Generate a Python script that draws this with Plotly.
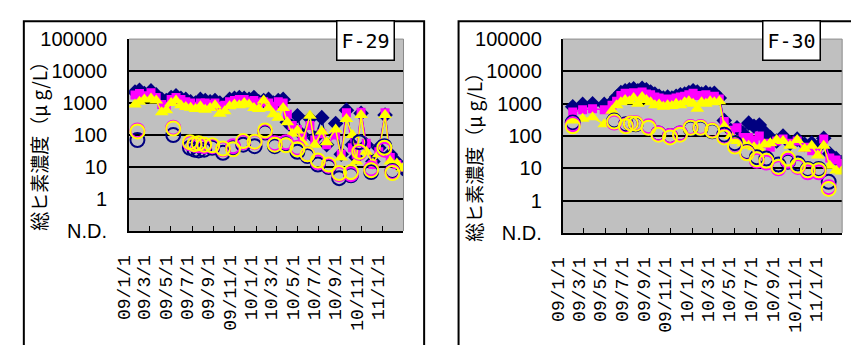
import plotly.graph_objects as go

# ---------------- data ----------------
tick_dates = ["2009-01-01", "2009-03-01", "2009-05-01", "2009-07-01", "2009-09-01",
              "2009-11-01", "2010-01-01", "2010-03-01", "2010-05-01", "2010-07-01",
              "2010-09-01", "2010-11-01", "2011-01-01", "2011-03-01"]
tick_labels = ["09/1/1", "09/3/1", "09/5/1", "09/7/1", "09/9/1", "09/11/1", "10/1/1",
               "10/3/1", "10/5/1", "10/7/1", "10/9/1", "10/11/1", "11/1/1", ""]
y_tickvals = [0.1, 1, 10, 100, 1000, 10000, 100000]
y_ticktext = ["N.D.", "1", "10", "100", "1000", "10000", "100000"]
grid_vals = [1, 10, 100, 1000, 10000]

# F-29 total (filled markers)
f29_tot_dates = ["2009-01-18", "2009-01-31", "2009-02-14", "2009-03-05", "2009-03-20", "2009-04-05",
                 "2009-04-18", "2009-05-02", "2009-05-16", "2009-05-30", "2009-06-13", "2009-06-27",
                 "2009-07-11", "2009-07-25", "2009-08-08", "2009-08-22", "2009-09-05", "2009-09-19",
                 "2009-10-03", "2009-10-17", "2009-10-31", "2009-11-14", "2009-11-28", "2009-12-12",
                 "2009-12-26", "2010-01-09", "2010-01-23", "2010-02-06", "2010-02-20", "2010-03-06",
                 "2010-03-20", "2010-04-01", "2010-04-15", "2010-04-30", "2010-05-14", "2010-06-05",
                 "2010-06-19", "2010-07-09", "2010-07-23", "2010-08-18", "2010-09-03", "2010-09-18",
                 "2010-10-05", "2010-10-16", "2010-10-30", "2010-11-14", "2010-12-03", "2010-12-20",
                 "2011-01-07", "2011-01-22", "2011-02-10", "2011-02-26"]
f29_navy = [2200, 2500, 2000, 2400, 1800, 1300, 1200, 1500, 1700, 1400, 1300, 1100,
            1000, 1300, 1200, 1100, 1200, 1000, 900, 1300, 1400, 1500, 1400, 1300,
            1500, 1100, 1200, 1300, 1000, 1200, 1300, 250, 180, 400, 100, 330,
            80, 350, 50, 230, 25, 600, 50, 20, 480, 50, 15, 40,
            420, 25, 14, 9]
f29_mag = [1800, 2000, 1700, 2100, 1500, 900, 800, 1300, 1500, 1300, 1100, 1000,
           800, 1000, 1000, 900, 1000, 800, 850, 1100, 1200, 1300, 1300, 1100,
           1200, 1000, 1100, 1000, 800, 1100, 1000, 450, 200, 150, 90, 200,
           70, 110, 50, 100, 25, 500, 40, 25, 520, 55, 12, 30,
           500, 20, 12, 10]
f29_yel = [900, 1100, 1300, 1400, 1200, 520, 600, 1000, 1200, 850, 750, 720,
           650, 800, 620, 700, 850, 460, 550, 800, 900, 850, 1000, 900,
           700, 650, 1200, 700, 450, 350, 700, 250, 110, 140, 60, 400,
           50, 130, 60, 150, 20, 320, 100, 15, 420, 30, 13, 25,
           420, 15, 13, 9]

# F-29 dissolved (open circles)
f29_dis_dates = ["2009-01-25", "2009-05-08", "2009-06-25", "2009-07-08", "2009-07-20", "2009-08-05",
                 "2009-08-28", "2009-09-28", "2009-10-27", "2009-11-25", "2009-12-28", "2010-01-27",
                 "2010-02-24", "2010-03-28", "2010-04-30", "2010-05-29", "2010-06-28", "2010-07-29",
                 "2010-08-28", "2010-10-01", "2010-10-25", "2010-11-28", "2011-01-05", "2011-01-28"]
f29_dis_navy = [70, 100, 40, 35, 33, 35, 40, 28, 40, 50, 45, 120,
                45, 55, 30, 22, 12, 10, 4.5, 5.5, 60, 7, 45, 7.5]
f29_dis_mag = [140, 170, 55, 50, 48, 45, 45, 36, 45, 60, 60, 130,
               55, 60, 40, 25, 14, 11, 6, 6, 28, 9, 35, 7]
f29_dis_yel = [130, 160, 60, 52, 55, 50, 48, 38, 36, 65, 62, 140,
               50, 48, 36, 25, 16, 12, 6.5, 7, 30, 8, 40, 6.5]

# F-30 total (filled markers)
f30_tot_dates = ["2009-01-29", "2009-02-26", "2009-03-26", "2009-04-28", "2009-05-20", "2009-06-02",
                 "2009-06-14", "2009-06-26", "2009-07-08", "2009-07-20", "2009-08-01", "2009-08-13",
                 "2009-08-25", "2009-09-06", "2009-09-18", "2009-09-30", "2009-10-12", "2009-10-24",
                 "2009-11-05", "2009-11-17", "2009-11-29", "2009-12-11", "2009-12-23", "2010-01-04",
                 "2010-01-16", "2010-01-28", "2010-02-09", "2010-02-21", "2010-03-05", "2010-03-19",
                 "2010-04-02", "2010-04-20", "2010-05-08", "2010-05-25", "2010-06-10", "2010-06-25",
                 "2010-07-10", "2010-07-25", "2010-08-10", "2010-08-28", "2010-09-15", "2010-10-05",
                 "2010-10-25", "2010-11-15", "2010-12-05", "2010-12-22", "2011-01-08", "2011-01-25",
                 "2011-02-12", "2011-02-27"]
f30_navy = [800, 950, 1000, 950, 1100, 1600, 2200, 2500, 2700, 2900, 2500, 3000,
            2700, 2300, 2000, 1700, 1500, 1600, 1500, 1700, 1900, 2000, 2200, 2500,
            2300, 2000, 2200, 2000, 2100, 1500, 300, 150, 180, 120, 250, 200,
            220, 130, 90, 70, 100, 60, 80, 55, 60, 45, 85, 28,
            20, 15]
f30_mag = [550, 650, 700, 650, 900, 1200, 1800, 2100, 2000, 2200, 1800, 2300,
           2000, 1900, 1600, 1500, 1300, 1400, 1300, 1500, 1600, 1700, 1900, 2100,
           1800, 1800, 1900, 1600, 1700, 1400, 280, 150, 180, 90, 90, 75,
           100, 60, 45, 70, 80, 60, 70, 45, 35, 30, 80, 21,
           18, 14]
f30_yel = [300, 340, 380, 230, 600, 900, 1100, 1300, 1200, 1500, 1000, 1600,
           1300, 1100, 900, 950, 800, 900, 850, 1000, 900, 1100, 1200, 1000,
           700, 1100, 1000, 1200, 1100, 1200, 200, 100, 70, 60, 50, 45,
           40, 55, 60, 75, 70, 50, 75, 40, 50, 25, 50, 12,
           8.6, 8]

# F-30 dissolved (open circles)
f30_dis_dates = ["2009-01-29", "2009-05-26", "2009-06-28", "2009-07-12", "2009-07-26", "2009-08-31",
                 "2009-09-28", "2009-10-31", "2009-11-28", "2009-12-28", "2010-01-25", "2010-02-27",
                 "2010-04-02", "2010-05-02", "2010-06-05", "2010-07-03", "2010-07-30", "2010-09-02",
                 "2010-09-29", "2010-10-27", "2010-11-24", "2010-12-25", "2011-01-22"]
f30_dis_navy = [260, 300, 230, 240, 230, 190, 120, 100, 120, 170, 170, 140,
                110, 60, 32, 22, 20, 13, 16, 14, 9.5, 9.5, 3.8]
f30_dis_mag = [230, 260, 210, 250, 250, 200, 120, 100, 120, 190, 190, 150,
               95, 50, 30, 17, 15, 10, 17, 11, 7.5, 7.5, 2.6]
f30_dis_yel = [200, 280, 200, 245, 240, 180, 110, 90, 110, 180, 180, 145,
               90, 47, 29, 19, 17, 11, 20, 12, 8.7, 8.7, 2.3]

NAVY, MAG, YEL = "#000080", "#FF00FF", "#FFFF00"

fig = go.Figure()


def add_panel(xa, ya, tdates, navy, mag, yel, ddates, dnavy, dmag, dyel):
    for vals, col, sym, sz in [(navy, NAVY, "diamond", 12), (mag, MAG, "square", 9),
                               (yel, YEL, "triangle-up", 12)]:
        fig.add_trace(go.Scatter(x=tdates, y=vals, mode="lines+markers", xaxis=xa, yaxis=ya,
                                 line=dict(color=col, width=1.5),
                                 marker=dict(symbol=sym, size=sz, color=col, line=dict(width=0)),
                                 showlegend=False))
    for vals, col in [(dnavy, NAVY), (dmag, MAG), (dyel, YEL)]:
        fig.add_trace(go.Scatter(x=ddates, y=vals, mode="markers", xaxis=xa, yaxis=ya,
                                 marker=dict(symbol="circle-open", size=14, color=col,
                                             line=dict(width=2, color=col)),
                                 showlegend=False))


add_panel("x", "y", f29_tot_dates, f29_navy, f29_mag, f29_yel,
          f29_dis_dates, f29_dis_navy, f29_dis_mag, f29_dis_yel)
add_panel("x2", "y2", f30_tot_dates, f30_navy, f30_mag, f30_yel,
          f30_dis_dates, f30_dis_navy, f30_dis_mag, f30_dis_yel)

W, H = 851, 345


def xdom(a, b):
    return [a / W, b / W]


def ydom(top, bottom):
    return [1 - bottom / H, 1 - top / H]


xcommon = dict(type="date", range=["2009-01-01", "2011-03-01"], tickmode="array",
               tickvals=tick_dates, ticktext=tick_labels, tickangle=-90,
               ticks="inside", ticklen=5, tickcolor="black", tickwidth=1,
               showline=True, linecolor="black", linewidth=2, showgrid=False,
               tickfont=dict(family="Liberation Mono", size=18, color="black"),
               ticklabelstandoff=15, ticklabelshift=-5, fixedrange=True)
ycommon = dict(type="log", range=[-1, 5], tickmode="array", tickvals=y_tickvals,
               ticktext=y_ticktext, showgrid=False, showline=True, linecolor="black",
               linewidth=2, ticks="", zeroline=False,
               tickfont=dict(family="Liberation Sans", size=20, color="black"))
gridcommon = dict(type="log", range=[-1, 5], tickmode="array", tickvals=grid_vals,
                  showgrid=True, gridcolor="black", gridwidth=2, showticklabels=False,
                  ticks="", showline=False, zeroline=False, side="left")

fig.update_layout(
    width=W, height=H, autosize=False, margin=dict(l=0, r=0, t=0, b=0),
    paper_bgcolor="white", plot_bgcolor="#C0C0C0", showlegend=False,
    font=dict(family="Liberation Sans", color="black"),
    xaxis=dict(domain=xdom(117, 396), anchor="y", **xcommon),
    yaxis=dict(domain=ydom(30, 235), anchor="x", ticklabelstandoff=16, **ycommon),
    xaxis2=dict(domain=xdom(558, 842), anchor="y2", **xcommon),
    yaxis2=dict(domain=ydom(30, 237), anchor="x2", ticklabelstandoff=15, **ycommon),
    yaxis3=dict(overlaying="y", anchor="x", **gridcommon),
    yaxis4=dict(overlaying="y2", anchor="x2", **gridcommon),
)

# empty traces to attach grid axes
fig.add_trace(go.Scatter(x=[], y=[], xaxis="x", yaxis="y3", showlegend=False))
fig.add_trace(go.Scatter(x=[], y=[], xaxis="x2", yaxis="y4", showlegend=False))

# outer frames and plot-area edges
shapes = [
    dict(type="rect", xref="paper", yref="paper", x0=10 / W, x1=417 / W, y0=-0.1, y1=1 - 11 / H,
         line=dict(color="black", width=2), layer="above"),
    dict(type="rect", xref="paper", yref="paper", x0=452 / W, x1=1.1, y0=-0.1, y1=1 - 11 / H,
         line=dict(color="black", width=2), layer="above"),
]
for xr, yr in [("x", "y"), ("x2", "y2")]:
    shapes.append(dict(type="line", xref=xr + " domain", yref=yr + " domain", x0=0, x1=1, y0=1, y1=1,
                       line=dict(color="#8a8a8a", width=1), layer="above"))
    shapes.append(dict(type="line", xref=xr + " domain", yref=yr + " domain", x0=1, x1=1, y0=0, y1=1,
                       line=dict(color="#8a8a8a", width=1), layer="above"))
fig.update_layout(shapes=shapes)

ytitle = "総ヒ素濃度（μ g/L）"
tfont = dict(family="Noto Sans CJK JP", size=19, color="black")
annots = [
    dict(text=ytitle, x=25 / W, y=1 - 139 / H, xref="paper", yref="paper", textangle=-90,
         xanchor="center", yanchor="middle", showarrow=False, font=tfont),
    dict(text=ytitle, x=467 / W, y=1 - 151 / H, xref="paper", yref="paper", textangle=-90,
         xanchor="center", yanchor="middle", showarrow=False, font=tfont),
    dict(text="F-29", x=357 / W, y=1 - 32 / H, xref="paper", yref="paper", showarrow=False,
         xanchor="center", yanchor="middle",
         bgcolor="white", bordercolor="black", borderwidth=1.5, borderpad=0, width=56, height=38,
         font=dict(family="DejaVu Sans Mono", size=20, color="black")),
    dict(text="F-30", x=791 / W, y=1 - 32 / H, xref="paper", yref="paper", showarrow=False,
         xanchor="center", yanchor="middle",
         bgcolor="white", bordercolor="black", borderwidth=1.5, borderpad=0, width=56, height=38,
         font=dict(family="DejaVu Sans Mono", size=20, color="black")),
]
fig.update_layout(annotations=annots)

fig.write_html("out.html", post_script="document.body.style.margin='0';document.body.style.overflow='hidden';")
